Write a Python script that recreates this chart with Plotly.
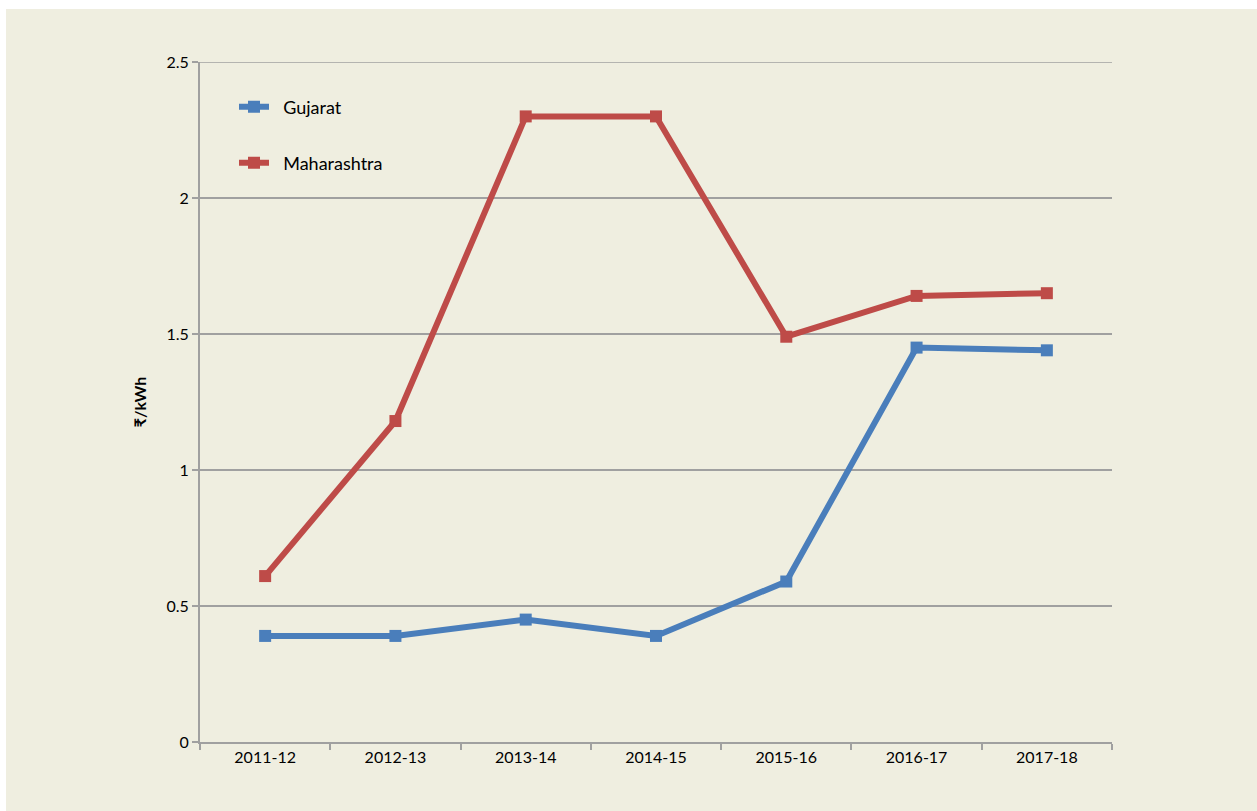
import plotly.graph_objects as go

years = ["2011-12", "2012-13", "2013-14", "2014-15", "2015-16", "2016-17", "2017-18"]
gujarat = [0.39, 0.39, 0.45, 0.39, 0.59, 1.45, 1.44]
maharashtra = [0.61, 1.18, 2.30, 2.30, 1.49, 1.64, 1.65]
y_ticks = [0, 0.5, 1, 1.5, 2, 2.5]
y_max = 2.5

BG = "#EFEEE0"
FONT = "Lato, 'Noto Sans', sans-serif"
NB = "\u00a0\u00a0"

fig = go.Figure()
fig.add_trace(go.Scatter(x=years, y=gujarat, name=NB + "Gujarat", mode="lines+markers",
                         line=dict(color="#4A7EBB", width=6),
                         marker=dict(symbol="square", size=12, color="#4A7EBB"),
                         legend="legend"))
fig.add_trace(go.Scatter(x=years, y=maharashtra, name=NB + "Maharashtra", mode="lines+markers",
                         line=dict(color="#BE4B48", width=6),
                         marker=dict(symbol="square", size=12, color="#BE4B48"),
                         legend="legend2"))

W, H = 1257, 811
L, R, T, B = 200, 145, 62, 69
pw, ph = W - L - R, H - T - B

def px_x(x):
    return (x - L) / pw

def px_y(y):
    return (H - B - y) / ph

fig.update_layout(
    width=W, height=H,
    margin=dict(l=L, r=R, t=T, b=B),
    paper_bgcolor=BG, plot_bgcolor=BG,
    font=dict(family=FONT, size=16, color="#000000"),
    showlegend=True,
    legend=dict(x=px_x(234), y=px_y(107), xanchor="left", yanchor="middle",
                bgcolor="rgba(0,0,0,0)", font=dict(size=18)),
    legend2=dict(x=px_x(234), y=px_y(163), xanchor="left", yanchor="middle",
                 bgcolor="rgba(0,0,0,0)", font=dict(size=18)),
    xaxis=dict(type="category", range=[-0.5, 6.5], tickson="boundaries",
               ticks="outside", ticklen=6, tickcolor="#A0A0A0", tickwidth=2,
               showline=True, linecolor="#A0A0A0", linewidth=2,
               showgrid=False, tickfont=dict(size=16), fixedrange=True),
    yaxis=dict(range=[0, y_max], tickvals=y_ticks,
               ticktext=[f"{v:g}" for v in y_ticks],
               ticks="outside", ticklen=6, tickcolor="#A0A0A0", tickwidth=2,
               showline=True, linecolor="#A0A0A0", linewidth=2,
               showgrid=True, gridcolor="#A0A0A0", gridwidth=1.5,
               zeroline=False, tickfont=dict(size=16),
               title=dict(text="<b>₹/kWh</b>", font=dict(size=16), standoff=16)),
    shapes=[
        dict(type="rect", xref="paper", yref="paper", x0=px_x(0), x1=px_x(6),
             y0=px_y(0), y1=px_y(H), fillcolor="white", line=dict(width=0), layer="below"),
        dict(type="rect", xref="paper", yref="paper", x0=px_x(0), x1=px_x(W),
             y0=px_y(0), y1=px_y(9), fillcolor="white", line=dict(width=0), layer="below"),
        dict(type="line", xref="paper", yref="y", x0=0, x1=1, y0=y_max, y1=y_max,
             line=dict(color="#A0A0A0", width=1.5), layer="below"),
    ],
)

fig.write_html("out.html")
